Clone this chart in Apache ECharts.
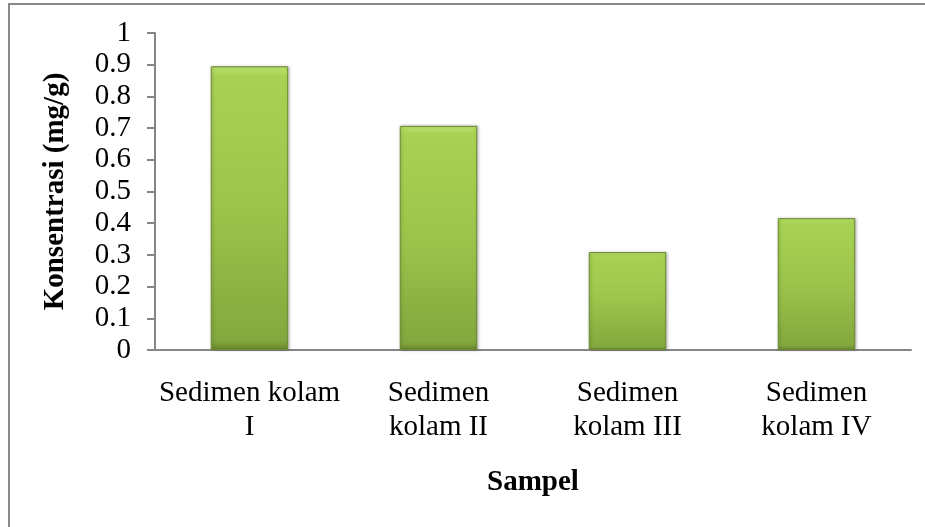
<!DOCTYPE html>
<html>
<head>
<meta charset="utf-8">
<script src="https://cdn.jsdelivr.net/npm/echarts@6/dist/echarts.min.js"></script>
<style>
html,body{margin:0;padding:0;background:#fff;}
#chart{width:925px;height:527px;}
</style>
</head>
<body>
<div id="chart"></div>
<script>
const categories = ["Sedimen kolam\nI", "Sedimen\nkolam II", "Sedimen\nkolam III", "Sedimen\nkolam IV"];
const values = [0.895, 0.707, 0.309, 0.416];
const yAxisTitle = "Konsentrasi (mg/g)";
const xAxisTitle = "Sampel";

const FONT = "'Liberation Serif', 'Times New Roman', serif";
const chart = echarts.init(document.getElementById('chart'), null, {renderer: 'canvas'});
const barColor = new echarts.graphic.LinearGradient(0, 0, 0, 1, [
  {offset: 0, color: '#bde46e'},
  {offset: 0.035, color: '#a8d254'},
  {offset: 0.5, color: '#9cc44b'},
  {offset: 0.965, color: '#83a83e'},
  {offset: 1, color: '#6a8a2f'}
]);
chart.setOption({
  animation: false,
  backgroundColor: '#ffffff',
  graphic: [{
    type: 'polyline',
    shape: {points: [[9, 700], [9, 4], [1100, 4]]},
    style: {fill: 'none', stroke: '#898989', lineWidth: 2},
    silent: true
  }],
  grid: {left: 155, right: 14, top: 33, bottom: 177, containLabel: false},
  xAxis: {
    type: 'category',
    data: categories,
    name: xAxisTitle,
    nameLocation: 'middle',
    nameGap: 118,
    nameTextStyle: {fontFamily: FONT, fontSize: 29, fontWeight: 'bold', color: '#000'},
    axisLine: {lineStyle: {color: '#868686', width: 2}},
    axisTick: {show: false},
    axisLabel: {fontFamily: FONT, fontSize: 29, color: '#000', margin: 26, lineHeight: 34, interval: 0}
  },
  yAxis: {
    type: 'value',
    min: 0, max: 1, interval: 0.1,
    name: yAxisTitle,
    nameLocation: 'middle',
    nameGap: 85,
    nameRotate: 90,
    nameTextStyle: {fontFamily: FONT, fontSize: 29, fontWeight: 'bold', color: '#000'},
    axisLine: {show: true, lineStyle: {color: '#868686', width: 2}},
    axisTick: {show: true, length: 8, lineStyle: {color: '#868686', width: 2}},
    splitLine: {show: false},
    axisLabel: {fontFamily: FONT, fontSize: 29, color: '#000', margin: 24}
  },
  series: [{
    type: 'bar',
    data: values,
    barWidth: '41%',
    itemStyle: {
      color: barColor,
      borderColor: '#6b8a30',
      borderWidth: 1,
      shadowColor: 'rgba(0,0,0,0.25)',
      shadowBlur: 3,
      shadowOffsetX: 1,
      shadowOffsetY: 0
    }
  }]
});
</script>
</body>
</html>
